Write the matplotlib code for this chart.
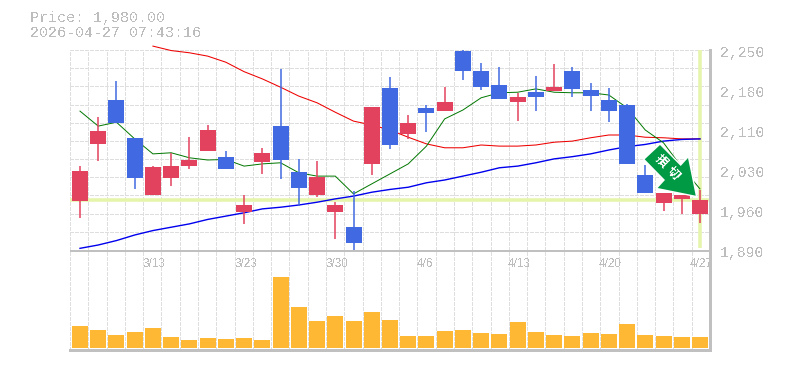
import matplotlib
matplotlib.use("Agg")
import matplotlib.pyplot as plt
from matplotlib.patches import Polygon
import numpy as np

W, H = 785, 370

# candles: prices (red = close above open)
opens = [1978, 2081, 2160, 2092, 1989, 2020, 2041, 2068, 2057, 1958, 2048, 2113, 2030, 1989, 1958, 1931, 2045, 2182,
         2099, 2146, 2140, 2248, 2212, 2187, 2156, 2174, 2176, 2212, 2178, 2160, 2151, 2025, 1975, 1982, 1955]
closes = [2032, 2104, 2119, 2020, 2039, 2041, 2052, 2106, 2036, 1971, 2065, 2052, 2002, 2021, 1971, 1903, 2147, 2079,
          2119, 2137, 2156, 2212, 2183, 2162, 2165, 2165, 2183, 2180, 2167, 2140, 2045, 1993, 1993, 1989, 1980]
highs = [2041, 2129, 2194, 2092, 2041, 2064, 2093, 2115, 2068, 1989, 2074, 2216, 2054, 2050, 1976, 1996, 2147, 2201,
         2133, 2151, 2183, 2250, 2227, 2219, 2173, 2203, 2225, 2219, 2191, 2182, 2153, 2043, 1993, 1989, 1998]
lows = [1948, 2051, 2119, 2000, 1989, 2005, 2036, 2068, 2036, 1937, 2027, 2018, 1969, 1985, 1910, 1889, 2025, 2072,
        2090, 2102, 2140, 2196, 2178, 2162, 2122, 2140, 2176, 2165, 2140, 2120, 2045, 1993, 1960, 1955, 1939]

# moving averages
ma_short = [2140, 2113, 2120, 2090, 2063, 2065, 2056, 2052, 2053, 2041, 2045, 2047, 2029, 2023, 2023, 1991, 2009, 2027,
            2045, 2077, 2126, 2142, 2164, 2173, 2174, 2180, 2174, 2173, 2173, 2169, 2146, 2106, 2083, 2039, 2000]
ma_mid = [np.nan, np.nan, np.nan, np.nan, 2257, 2249, 2245, 2239, 2228, 2211, 2198, 2183, 2167, 2155, 2138, 2122, 2115,
          2106, 2093, 2081, 2074, 2074, 2079, 2077, 2077, 2079, 2084, 2086, 2092, 2097, 2097, 2093, 2092, 2090, 2090]
ma_long = [1893, 1899, 1907, 1917, 1925, 1931, 1937, 1945, 1951, 1957, 1964, 1967, 1971, 1976, 1982, 1987, 1994, 1999,
           2003, 2011, 2016, 2023, 2030, 2038, 2041, 2047, 2054, 2058, 2063, 2070, 2076, 2080, 2086, 2089, 2090]

volumes = [22, 18, 13, 16, 20, 11, 8, 10, 9, 10, 8, 71, 41, 27, 32, 27, 36, 28,
           12, 12, 17, 18, 15, 14, 26, 16, 13, 12, 15, 14, 24, 13, 12, 11, 11]

price_labels = ["2,250", "2,180", "2,110", "2,030", "1,960", "1,890"]
date_idx = [4, 9, 14, 19, 24, 29, 34]
date_labels = ["3/13", "3/23", "3/30", "4/6", "4/13", "4/20", "4/27"]
last_price = 1980

RED, BLUE = "#e3425f", "#4169e1"
GRID, AXIS, TXT = "#dedede", "#c0c0c0", "#bdbdbd"
PALE = "#e6f5ac"
MONO = "Liberation Mono"

# the reference has hard pixel edges
plt.rcParams["text.antialiased"] = False

fig = plt.figure(figsize=(W / 100, H / 100), dpi=100)
ax = fig.add_axes([70 / W, 1 - 250 / H, 640 / W, 200 / H])
ax_v = fig.add_axes([70 / W, 1 - 350 / H, 640 / W, 100 / H])

n = len(closes)
x = np.arange(n)
xlim = (-0.548, n - 1 + 0.55)
step_x = 18.235
col_w = (xlim[1] - xlim[0]) / n

# grid is not tied to the price labels, 11 rows and 35 columns
for a in (ax, ax_v):
    a.set_xlim(xlim)
    a.set_xticks([])
    a.set_yticks([])
    for s in a.spines.values():
        s.set_visible(False)
    for k in range(n + 1):
        a.axvline(xlim[0] + k * col_w, color=GRID, lw=0.72, dashes=(3, 2), zorder=0, antialiased=False)
ax.set_ylim(1890, 2250)
for k in range(11):
    ax.axhline(2250 - k * 360 / 11, color=GRID, lw=0.72, dashes=(3, 2), zorder=0, antialiased=False)

# current price cross
ax.axhline(last_price, color=PALE, lw=2.6, zorder=1)
ax.plot([x[-1], x[-1]], [1893, 2250], color=PALE, lw=2.6, zorder=1, solid_capstyle="butt")

ax.plot(x, ma_mid, color="#ee0000", lw=0.75, zorder=2, clip_on=False)
ax.plot(x, ma_long, color="#0000ee", lw=1, zorder=2)
ax.plot(x, ma_short, color="#007700", lw=0.7, zorder=2)

for i in range(n):
    c = RED if closes[i] >= opens[i] else BLUE
    ax.plot([x[i], x[i]], [lows[i], highs[i]], color=c, lw=1.1, zorder=3, solid_capstyle="butt", clip_on=False)
    ax.bar(x[i], abs(closes[i] - opens[i]), bottom=min(opens[i], closes[i]), width=16 / step_x, color=c, lw=0, zorder=3)

ax_v.set_ylim(-2, 98)
ax_v.bar(x, volumes, width=16 / step_x, color="#ffb833", lw=0, zorder=2)

# solid frame lines
ax_v.axhline(98, color=AXIS, lw=1, zorder=4, antialiased=False)
ax_v.axhline(-2, color=AXIS, lw=1, zorder=4, clip_on=False, antialiased=False)
for a in (ax, ax_v):
    a.axvline(xlim[1], color=AXIS, lw=1, zorder=4, clip_on=False, antialiased=False)

for i, lab in zip(date_idx, date_labels):
    ax_v.text(x[i] - 0.55, 90, lab, color=TXT, fontsize=8.5, family="Liberation Sans", ha="left", va="top", zorder=3)

for k, lab in enumerate(price_labels):
    fig.text(720 / W, 1 - (53.5 + 40 * k) / H, lab, color=TXT, fontsize=10.6, family=MONO, ha="left", va="center")

fig.text(30 / W, 1 - 18 / H, f"Price: {last_price:,.2f}", color=TXT, fontsize=10.8, family=MONO, ha="left", va="center")
fig.text(30 / W, 1 - 33 / H, "2026-04-27 07:43:16", color=TXT, fontsize=10.8, family=MONO, ha="left", va="center")

# signal arrow, placed in figure pixels
arrow_px = [(660, 145), (680.7, 166), (688, 158), (695.7, 195.7), (657.7, 188), (665, 180), (644.7, 159.3)]
arrow_xy = [(px / W, 1 - py / H) for px, py in arrow_px]
fig.add_artist(Polygon(arrow_xy, closed=True, transform=fig.transFigure, fc="white", ec="white", lw=2, zorder=10))
fig.add_artist(Polygon(arrow_xy, closed=True, transform=fig.transFigure, fc="#009944", ec="none", zorder=10.5))
for ch, (px, py) in zip("損切", [(661.5, 161), (673, 173)]):
    fig.text(px / W, 1 - py / H, ch, color="white", fontsize=8.8, fontweight="bold",
             family=["Noto Sans CJK JP", "DejaVu Sans"], rotation=-45, rotation_mode="anchor",
             ha="center", va="center", zorder=11)

fig.savefig("out.png", dpi=100, facecolor="white")
